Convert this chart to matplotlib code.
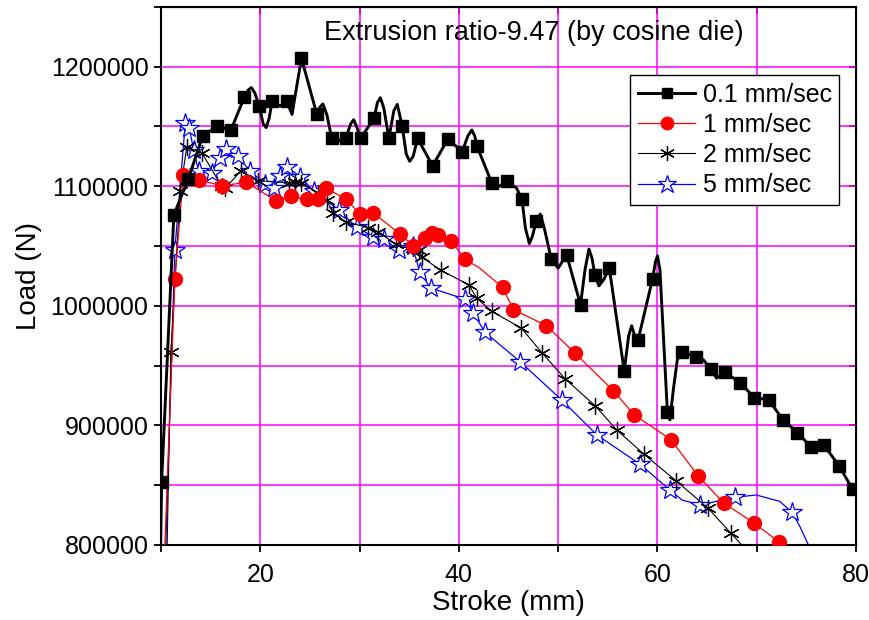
import matplotlib
matplotlib.use("Agg")
import matplotlib.pyplot as plt
from matplotlib.ticker import MultipleLocator, FixedLocator, ScalarFormatter

plt.rcParams['font.family'] = ['Liberation Sans', 'DejaVu Sans']

# ---------------- data ----------------
title = "Extrusion ratio-9.47 (by cosine die)"
labels = ["0.1 mm/sec", "1 mm/sec", "2 mm/sec", "5 mm/sec"]

# 0.1 mm/sec : points
s01_x = [9.95, 10.07, 11.3, 12.75, 14.2, 15.65, 17.05, 18.4, 18.8, 19.1, 19.45, 19.9, 20.3, 20.6,
         20.9, 21.2, 22.0, 22.65, 23.2, 23.6, 24.15, 25.7, 26.0, 26.3, 26.7, 27.2, 27.5, 28.6,
         29.1, 29.4, 29.7, 30.1, 31.45, 31.8, 32.1, 32.45, 32.95, 33.45, 33.8, 34.3, 34.7,
         35.05, 35.4, 35.85, 37.35, 38.9, 40.35, 40.9, 41.3, 41.6, 41.8, 43.3, 44.1, 44.8,
         45.8, 46.35, 46.7, 47.1, 47.4, 47.8, 48.2, 48.6, 49.3, 50.0, 50.85, 52.25, 52.7,
         53.1, 53.4, 53.7, 54.1, 54.6, 55.15, 56.65, 57.1, 57.4, 57.7, 58.05, 59.5, 59.8,
         60.0, 60.25, 61.0, 61.25, 61.6, 62.0, 62.5, 63.85, 64.6, 65.35, 65.95, 66.8, 68.3,
         69.75, 71.2, 72.65, 74.1, 75.45, 76.75, 78.3, 79.65, 80.3]
s01_y = [790000, 853000, 1076000, 1106000, 1142000, 1150000, 1147000, 1174500, 1180500, 1182500,
         1178000, 1167000, 1152000, 1149000, 1157000, 1171500, 1167000, 1171500, 1160000,
         1180000, 1207000, 1160000, 1166000, 1168800, 1160000, 1140000, 1137000, 1140000,
         1152000, 1155600, 1150000, 1140000, 1156700, 1170000, 1174000, 1165000, 1140000,
         1163000, 1168400, 1150000, 1127000, 1120800, 1125000, 1140000, 1117000, 1139400,
         1129000, 1142000, 1147000, 1142000, 1134000, 1103000, 1100000, 1104000, 1098500,
         1089300, 1065000, 1052000, 1058000, 1071000, 1076700, 1065000, 1039300, 1031500,
         1042700, 1000800, 1030000, 1047500, 1040000, 1026000, 1016700, 1022000, 1031500,
         945600, 975000, 983300, 975000, 971500, 1022300, 1037000, 1041800, 1030000, 911000,
         904600, 930000, 955000, 961700, 957000, 955000, 947300, 939500, 944500, 935800,
         923300, 921300, 904600, 894000, 882000, 883700, 866000, 846600, 838000]
# x positions of the points that carry a square marker
s01_mark_x = [10.07, 11.3, 12.75, 14.2, 15.65, 17.05, 18.4, 19.9, 21.2, 22.65, 24.15, 25.7, 27.2,
              28.6, 30.1, 31.45, 32.95, 34.3, 35.85, 37.35, 38.9, 40.35, 41.8, 43.3, 44.8,
              46.35, 47.8, 49.3, 50.85, 52.25, 53.7, 55.15, 56.65, 58.05, 59.5, 61.0, 62.5,
              63.85, 65.35, 66.8, 68.3, 69.75, 71.2, 72.65, 74.1, 75.45, 76.75, 78.3, 79.65]
s01_marks = [s01_x.index(v) for v in s01_mark_x]

# 1 mm/sec
s1_x = [10.35, 11.4, 12.25, 13.85, 16.15, 18.6, 21.55, 23.05, 24.7, 25.85, 26.6, 28.65, 30.0,
        31.35, 34.05, 35.4, 36.6, 37.3, 37.85, 39.25, 40.6, 42.1, 44.4, 45.5, 48.8, 51.7, 55.55,
        57.65, 61.35, 64.1, 66.7, 69.75, 72.2, 72.6]
s1_y = [790000, 1022600, 1109600, 1105000, 1100400, 1103200, 1088000, 1091400, 1089000, 1089300,
        1098500, 1089000, 1077000, 1077800, 1060200, 1050200, 1056600, 1060800, 1059000, 1054200,
        1039000, 1031500, 1015400, 996700, 983500, 960400, 929100, 908800, 888200, 857700,
        834900, 818200, 802800, 790000]
s1_marks = [i for i in range(1, 33) if i != 21]

# 2 mm/sec
s2_x = [10.6, 11.0, 11.95, 12.6, 14.15, 16.1, 16.5, 18.05, 19.75, 22.9, 23.5, 24.1, 25.85, 26.7,
        27.3, 28.6, 30.9, 31.9, 33.7, 35.4, 36.0, 36.3, 38.2, 41.0, 41.8, 43.3, 46.3, 48.4,
        50.7, 53.7, 55.9, 58.6, 61.85, 65.1, 67.4, 69.6]
s2_y = [790000, 961500, 1096200, 1133000, 1127600, 1100000, 1098700, 1112700, 1104700, 1102700,
        1103200, 1102700, 1094400, 1088700, 1078000, 1070200, 1065300, 1061500, 1051300, 1048500,
        1046900, 1040500, 1029600, 1017600, 1006400, 995500, 981300, 960400, 938900, 916600,
        896200, 876200, 853800, 830700, 809800, 790000]
s2_marks = list(range(1, 35))

# 5 mm/sec
s5_x = [10.45, 11.4, 12.45, 12.85, 13.3, 13.8, 15.1, 15.9, 16.55, 17.75, 19.0, 20.5, 21.4, 22.0,
        22.65, 24.05, 25.4, 27.9, 29.7, 31.4, 32.45, 33.95, 35.35, 36.05, 37.15, 40.6, 41.45,
        42.65, 46.15, 50.35, 53.9, 58.25, 61.25, 62.5, 64.3, 67.8, 69.95, 72.3, 73.55, 74.35,
        75.2, 75.4]
s5_y = [790000, 1047000, 1152500, 1149000, 1130000, 1112400, 1111000, 1123600, 1131000, 1125000,
        1112400, 1102000, 1098500, 1108900, 1116200, 1108000, 1095600, 1080300, 1065700, 1057800,
        1055500, 1046900, 1049700, 1028400, 1014900, 1005600, 993900, 977700, 953400, 921300,
        892000, 867500, 846000, 837500, 833500, 839900, 841800, 836500, 827400, 815300,
        800000, 790000]
s5_marks = [i for i in range(1, 39) if i not in (33, 36, 37)]

# ---------------- figure ----------------
fig = plt.figure(figsize=(8.7, 6.2), dpi=100)
ax = fig.add_axes([0.185, 0.121, 0.799, 0.868])

ax.set_xlim(10, 80)
ax.set_ylim(800000, 1250000)

ax.plot(s5_x, s5_y, color='#0000FF', lw=0.9, marker='*', markevery=s5_marks, ms=15,
        mfc='white', mec='#0000FF', mew=0.9, label=labels[3], zorder=3)
ax.plot(s2_x, s2_y, color='black', lw=0.8, marker=(6, 2, 0), markevery=s2_marks, ms=12,
        mec='black', mew=0.9, label=labels[2], zorder=4)
ax.plot(s1_x, s1_y, color='#FF0000', lw=0.9, marker='o', markevery=s1_marks, ms=10,
        mfc='#FF0000', mec='#FF0000', label=labels[1], zorder=5)
ax.plot(s01_x, s01_y, color='black', lw=2.1, marker='s', markevery=s01_marks, ms=8.5,
        mfc='black', mec='black', label=labels[0], zorder=6, solid_joinstyle='round')

# ticks and grid
ax.xaxis.set_major_locator(FixedLocator([20, 40, 60, 80]))
ax.xaxis.set_minor_locator(FixedLocator([10, 30, 50, 70]))
ax.yaxis.set_major_locator(MultipleLocator(100000))
ax.yaxis.set_minor_locator(MultipleLocator(50000))
fmt = ScalarFormatter(useOffset=False)
fmt.set_scientific(False)
ax.yaxis.set_major_formatter(fmt)
ax.grid(True, which='both', color='#FF00FF', lw=1.1)
ax.set_axisbelow(True)
ax.tick_params(which='both', direction='out', length=5, width=1.3, labelsize=18,
               top=False, right=False)
ax.tick_params(axis='x', pad=8)
ax.tick_params(axis='y', pad=4)
for sp in ax.spines.values():
    sp.set_linewidth(1.5)

# inward ticks on top and right
axt = ax.secondary_xaxis('top')
axt.xaxis.set_major_locator(MultipleLocator(10))
axt.tick_params(direction='in', length=5, width=1.3, labeltop=False)
axr = ax.secondary_yaxis('right')
axr.yaxis.set_major_locator(MultipleLocator(50000))
axr.tick_params(direction='in', length=5, width=1.3, labelright=False)

ax.set_xlabel("Stroke (mm)", fontsize=20, labelpad=2)
ax.set_ylabel("Load (N)", fontsize=20, labelpad=6)

ax.text(0.536, 0.952, title, transform=ax.transAxes, ha='center', va='center', fontsize=19.5)

handles, labs = ax.get_legend_handles_labels()
order = [3, 2, 1, 0]
leg = ax.legend([handles[i] for i in order], [labs[i] for i in order],
                loc='upper right', bbox_to_anchor=(0.976, 0.873), fontsize=18,
                frameon=True, fancybox=False, framealpha=1, edgecolor='black',
                handlelength=2.3, handletextpad=0.3, labelspacing=0.25, borderpad=0.3,
                borderaxespad=0, markerscale=0.9)
leg.get_frame().set_linewidth(1.0)
leg.set_zorder(10)

fig.savefig("out.png", dpi=100)
